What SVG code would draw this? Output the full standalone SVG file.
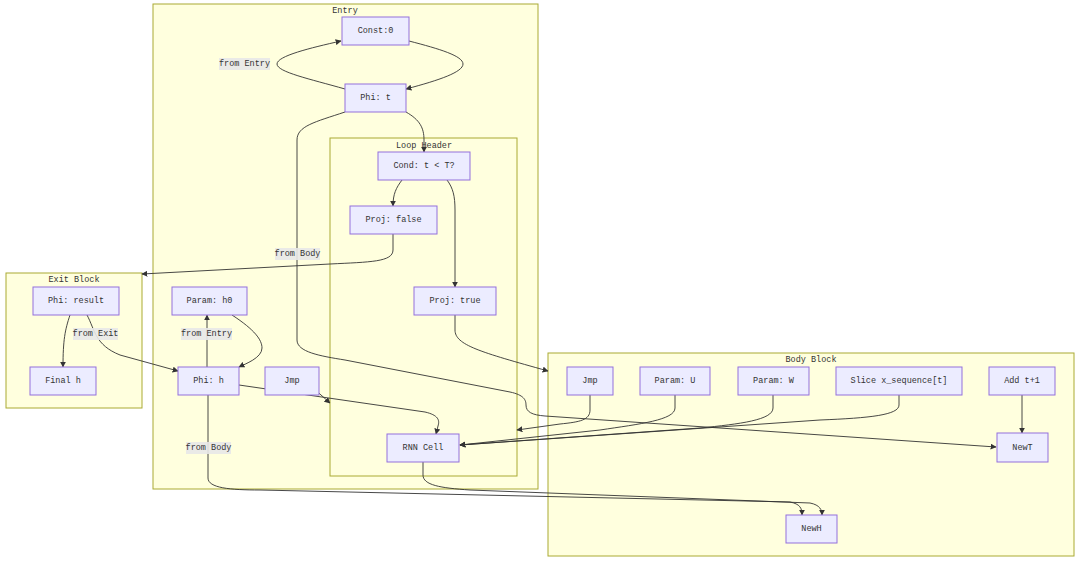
<svg xmlns="http://www.w3.org/2000/svg" width="1080" height="562" viewBox="0 0 1080 562">
<defs>
<marker id="arr" viewBox="0 0 10 10" refX="9" refY="5" markerWidth="6" markerHeight="6" orient="auto-start-reverse" markerUnits="userSpaceOnUse">
<path d="M0,0 L10,5 L0,10 z" fill="#333"/>
</marker>
<style>
.cl{fill:#ffffde;stroke:#aaaa33;stroke-width:1}
.ct{font-family:"Liberation Mono",monospace;font-size:8.5px;fill:#333;text-anchor:middle}
.nd rect{fill:#ECECFF;stroke:#9370DB;stroke-width:1}
.nd text,.lb text{font-family:"Liberation Mono",monospace;font-size:8.5px;fill:#333;text-anchor:middle;dominant-baseline:central}
.lb rect{fill:#e8e8e8;opacity:0.9}
.e{fill:none;stroke:#333;stroke-width:0.9;marker-end:url(#arr)}
</style>
</defs>
<rect width="1080" height="562" fill="#fff"/>
<g id="clusters">
<g id="cluster-entry"><rect class="cl" x="153" y="4" width="385" height="485"/><text class="ct" x="345" y="13">Entry</text></g>
<g id="cluster-exit"><rect class="cl" x="6" y="273" width="136" height="135"/><text class="ct" x="74" y="282">Exit Block</text></g>
<g id="cluster-body"><rect class="cl" x="548" y="353" width="526" height="203"/><text class="ct" x="811" y="362">Body Block</text></g>
<g id="cluster-loop"><rect class="cl" x="330" y="138" width="187" height="338"/><text class="ct" x="424" y="148">Loop Header</text></g>
</g>
<g id="connectors">
<path class="e" d="M345,89 C310,79 277,72 277,64 C277,56 310,48 341,41"/>
<path class="e" d="M409,41 C440,49 463,56 463,64 C463,72 440,80 406,89"/>
<path class="e" d="M406,112 C420,120 424,128 424,140 L424,152"/>
<path class="e" d="M345,112 C315,122 297,126 297,140 L297,340 C297,352 320,356 345,360 L510,392 C524,395 526,400 526,405 C526,412 532,415 545,416 L996,447"/>
<path class="e" d="M402,180 C396,188 393,194 393,206"/>
<path class="e" d="M447,180 C453,188 455,196 455,210 L455,287"/>
<path class="e" d="M393,234 L393,250 C393,262 370,262 330,264 L142,274"/>
<path class="e" d="M455,315 L455,330 C455,345 480,352 548,371"/>
<path class="e" d="M70,315 C65,330 63,340 63,367"/>
<path class="e" d="M87,315 C95,330 95,345 120,355 L178,371"/>
<path class="e" d="M207,367 L207,315"/>
<path class="e" d="M232,315 C255,330 262,340 262,348 C262,358 245,364 239,367"/>
<path class="e" d="M239,385 L425,412 C438,415 440,420 438,426 L436,434"/>
<path class="e" d="M312,387 L330,403"/>
<path class="e" d="M590,395 L590,410 C590,420 580,422 560,424 L517,430"/>
<path class="e" d="M675,395 L675,408 C675,420 640,424 600,430 L460,445"/>
<path class="e" d="M773,395 L773,408 C773,420 740,424 700,428 L460,445"/>
<path class="e" d="M899,395 L899,405 C899,415 870,418 820,420 L460,445"/>
<path class="e" d="M1022,395 L1022,433"/>
<path class="e" d="M208,395 L208,478 C208,488 230,490 260,490 L790,502 C800,504 802,508 802,515"/>
<path class="e" d="M423,462 L423,475 C423,485 440,488 470,490 L810,503 C820,505 822,510 822,515"/>
</g>
<g id="edge-labels">
<g class="lb"><rect x="219" y="58" width="51" height="12"/><text x="244.5" y="64">from Entry</text></g>
<g class="lb"><rect x="275" y="248" width="45" height="12"/><text x="297.5" y="254">from Body</text></g>
<g class="lb"><rect x="73" y="328" width="45" height="12"/><text x="95.5" y="334">from Exit</text></g>
<g class="lb"><rect x="181" y="328" width="51" height="12"/><text x="206.5" y="334">from Entry</text></g>
<g class="lb"><rect x="186" y="442" width="45" height="12"/><text x="208.5" y="448">from Body</text></g>
</g>
<g id="n-const0" class="nd"><rect x="342" y="17" width="67" height="28"/><text x="375.5" y="31">Const:0</text></g>
<g id="n-phit" class="nd"><rect x="345" y="84" width="61" height="28"/><text x="375.5" y="98">Phi: t</text></g>
<g id="n-cond" class="nd"><rect x="378" y="152" width="92" height="28"/><text x="424" y="166">Cond: t &lt; T?</text></g>
<g id="n-projfalse" class="nd"><rect x="350" y="206" width="87" height="28"/><text x="393.5" y="220">Proj: false</text></g>
<g id="n-projtrue" class="nd"><rect x="414" y="287" width="82" height="28"/><text x="455" y="301">Proj: true</text></g>
<g id="n-phiresult" class="nd"><rect x="33" y="287" width="86" height="28"/><text x="76" y="301">Phi: result</text></g>
<g id="n-finalh" class="nd"><rect x="30" y="367" width="66" height="28"/><text x="63" y="381">Final h</text></g>
<g id="n-paramh0" class="nd"><rect x="172" y="287" width="75" height="28"/><text x="209.5" y="301">Param: h0</text></g>
<g id="n-phih" class="nd"><rect x="178" y="367" width="61" height="28"/><text x="208.5" y="381">Phi: h</text></g>
<g id="n-jmp-entry" class="nd"><rect x="265" y="367" width="54" height="28"/><text x="292" y="381">Jmp</text></g>
<g id="n-rnncell" class="nd"><rect x="387" y="434" width="72" height="28"/><text x="423" y="448">RNN Cell</text></g>
<g id="n-jmp-body" class="nd"><rect x="567" y="367" width="46" height="28"/><text x="590" y="381">Jmp</text></g>
<g id="n-paramu" class="nd"><rect x="640" y="367" width="70" height="28"/><text x="675" y="381">Param: U</text></g>
<g id="n-paramw" class="nd"><rect x="738" y="367" width="71" height="28"/><text x="773.5" y="381">Param: W</text></g>
<g id="n-slice" class="nd"><rect x="836" y="367" width="126" height="28"/><text x="899" y="381">Slice x_sequence[t]</text></g>
<g id="n-add" class="nd"><rect x="989" y="367" width="66" height="28"/><text x="1022" y="381">Add t+1</text></g>
<g id="n-newt" class="nd"><rect x="997" y="433" width="51" height="29"/><text x="1022.5" y="447.5">NewT</text></g>
<g id="n-newh" class="nd"><rect x="786" y="515" width="51" height="28"/><text x="811.5" y="529">NewH</text></g>
</svg>
